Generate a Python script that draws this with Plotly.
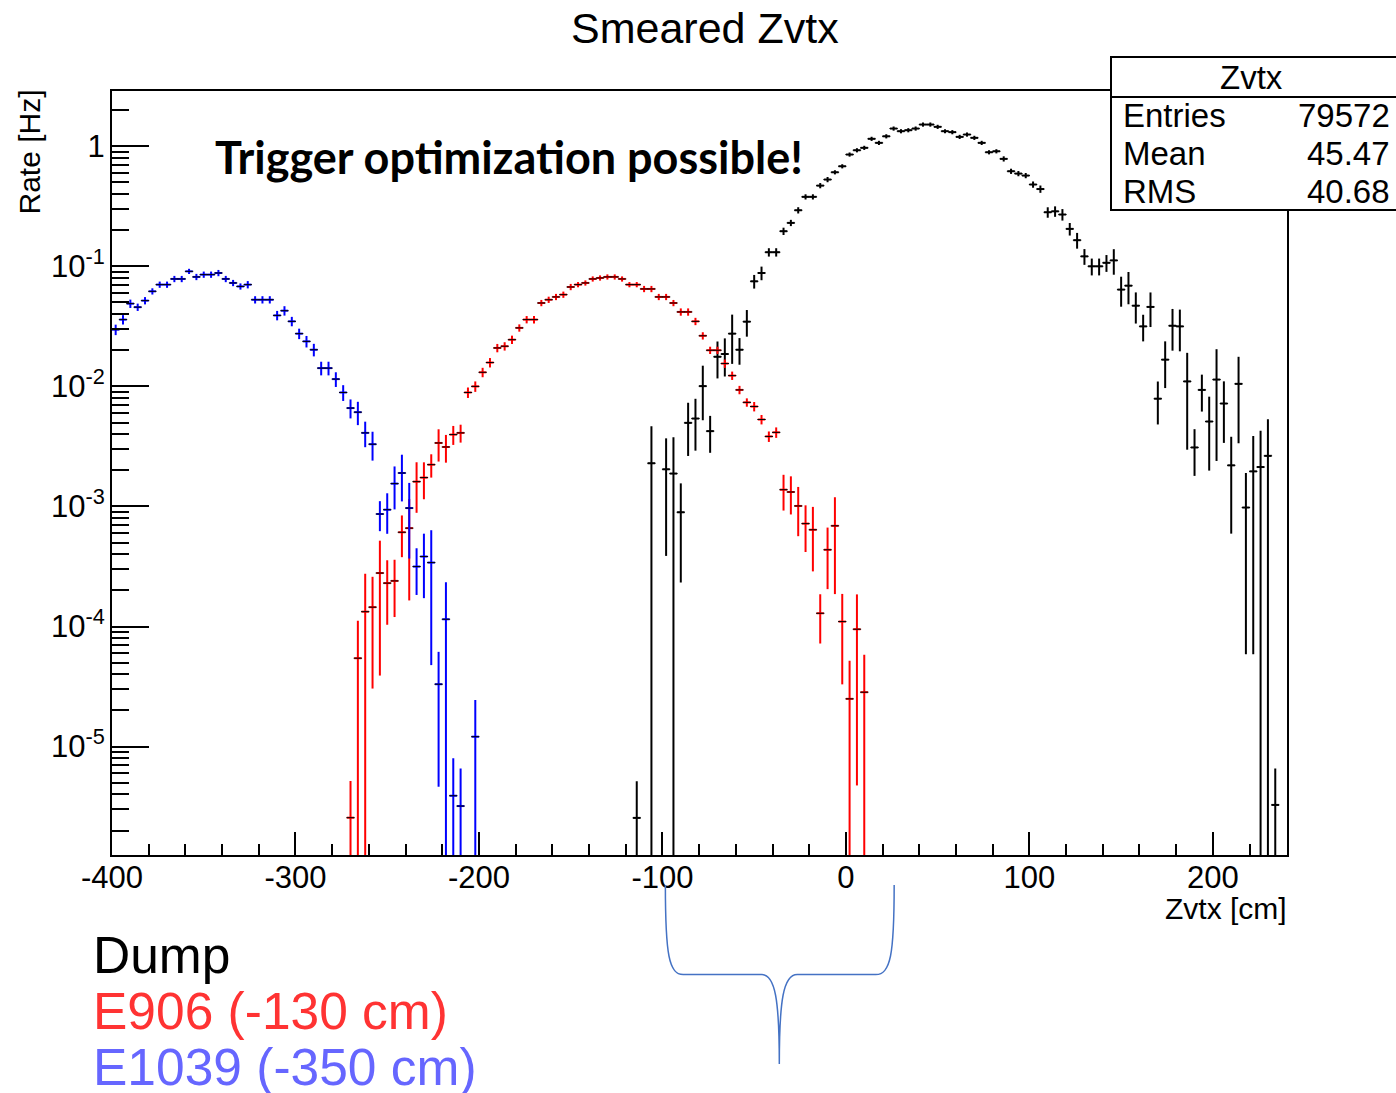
import plotly.graph_objects as go

# ---------------- data: smeared Z-vertex rates, 4 cm bins ----------------
BIN_W = 4.0

# Dump: bin centres start at -114 cm (None = empty bin)
dump_z0 = -114
dump_rate = [
    2.55e-6, None, 2.29e-3, None, 2.04e-3, 1.88e-3, 8.95e-4, 4.97e-3,
    5.4e-3, 0.01005, 4.24e-3, 0.01765, 0.0186, 0.0275, 0.0202, 0.0346,
    0.075, 0.088, 0.131, 0.131, 0.196, 0.23, 0.293, 0.379,
    0.379, 0.47, 0.528, 0.607, 0.681, 0.853, 0.926, 0.97,
    1.153, 1.067, 1.21, 1.404, 1.334, 1.36, 1.404, 1.516,
    1.516, 1.451, 1.334, 1.31, 1.197, 1.252, 1.175, 1.067,
    0.891, 0.908, 0.785, 0.619, 0.592, 0.57, 0.48, 0.44,
    0.282, 0.287, 0.27, 0.205, 0.165, 0.121, 0.1, 0.1,
    0.107, 0.112, 0.064, 0.069, 0.047, 0.0316, 0.0459, 7.9e-3,
    0.0167, 0.032, 0.0316, 0.011, 3.1e-3, 9.35e-3, 5.1e-3, 0.0114,
    7.2e-3, 2.2e-3, 0.0105, 9.8e-4, 1.96e-3, 2.13e-3, 2.64e-3, 3.27e-6,
]
dump_relerr = [
    1.02, 0, 1.03, 0, 0.81, 1.01, 0.74, 0.47,
    0.46, 0.48, 0.34, 0.34, 0.35, 0.44, 0.25, 0.25,
    0.13, 0.13, 0.08, 0.08, 0.07, 0.06, 0.06, 0.05,
    0.05, 0.05, 0.05, 0.04, 0.04, 0.04, 0.04, 0.04,
    0.04, 0.04, 0.04, 0.04, 0.04, 0.04, 0.04, 0.04,
    0.04, 0.04, 0.04, 0.04, 0.04, 0.04, 0.04, 0.04,
    0.04, 0.04, 0.05, 0.05, 0.05, 0.05, 0.06, 0.07,
    0.10, 0.10, 0.11, 0.12, 0.15, 0.15, 0.16, 0.16,
    0.16, 0.24, 0.28, 0.30, 0.29, 0.25, 0.32, 0.39,
    0.42, 0.38, 0.38, 0.73, 0.42, 0.34, 0.61, 0.79,
    0.53, 0.73, 0.68, 0.94, 0.97, 1.01, 1.02, 1.01,
]

# E906 target at -130 cm: bin centres start at -270 cm
e906_z0 = -270
e906_rate = [
    2.56e-6, 5.45e-5, 1.33e-4, 1.45e-4, 2.79e-4, 2.3e-4, 2.4e-4, 6.1e-4,
    6.6e-4, 1.61e-3, 1.74e-3, 2.23e-3, 3.38e-3, 3.13e-3, 3.97e-3, 4.1e-3,
    8.9e-3, 0.0100, 0.0131, 0.0158, 0.0209, 0.0216, 0.0245, 0.0307,
    0.036, 0.036, 0.0495, 0.0527, 0.0556, 0.0581, 0.0673, 0.0704,
    0.0727, 0.0785, 0.0800, 0.0816, 0.0816, 0.0785, 0.0704, 0.0704,
    0.0648, 0.0648, 0.0556, 0.0556, 0.0495, 0.0417, 0.0417, 0.0348,
    0.0264, 0.0200, 0.0200, 0.0155, 0.0123, 0.00935, 0.00736, 0.0068,
    0.0053, 0.00383, 0.00414, 1.38e-3, 1.32e-3, 1.01e-3, 7.2e-4, 6.4e-4,
    1.29e-4, 4.36e-4, 6.9e-4, 1.1e-4, 2.5e-5, 9.5e-5, 2.84e-5,
]
e906_relerr = [
    1.02, 1.05, 1.07, 0.79, 0.86, 0.55, 0.50, 0.38,
    0.75, 0.45, 0.34, 0.22, 0.30, 0.26, 0.18, 0.17,
    0.10, 0.10, 0.09, 0.09, 0.08, 0.08, 0.08, 0.07,
    0.07, 0.07, 0.06, 0.06, 0.06, 0.06, 0.06, 0.05,
    0.05, 0.05, 0.05, 0.05, 0.05, 0.05, 0.05, 0.05,
    0.06, 0.06, 0.06, 0.06, 0.06, 0.07, 0.07, 0.07,
    0.07, 0.07, 0.07, 0.08, 0.08, 0.08, 0.08, 0.09,
    0.09, 0.10, 0.10, 0.33, 0.35, 0.44, 0.42, 0.55,
    0.44, 0.53, 0.73, 0.70, 1.08, 0.95, 1.05,
]

# E1039 target at -350 cm: bin centres start at -398 cm
e1039_z0 = -398
e1039_rate = [
    0.0297, 0.036, 0.0489, 0.0457, 0.0518, 0.0619, 0.0704, 0.0704,
    0.0785, 0.0785, 0.0908, 0.0816, 0.0853, 0.0853, 0.088, 0.0785,
    0.0727, 0.068, 0.0704, 0.0527, 0.0527, 0.0527, 0.039, 0.0427,
    0.0348, 0.0275, 0.0237, 0.0202, 0.0142, 0.0142, 0.0115, 0.0089,
    0.0066, 0.0061, 0.0041, 0.0033, 8.65e-4, 9.4e-4, 1.55e-3, 1.9e-3,
    9.7e-4, 3.16e-4, 3.83e-4, 3.41e-4, 3.31e-5, 1.15e-4, 3.9e-6, 3.2e-6,
    None, 1.21e-5,
]
e1039_relerr = [
    0.10, 0.09, 0.08, 0.07, 0.07, 0.06, 0.06, 0.06,
    0.06, 0.06, 0.05, 0.06, 0.06, 0.06, 0.06, 0.06,
    0.06, 0.06, 0.07, 0.07, 0.07, 0.07, 0.09, 0.09,
    0.09, 0.10, 0.11, 0.12, 0.13, 0.13, 0.14, 0.15,
    0.18, 0.22, 0.24, 0.27, 0.28, 0.37, 0.39, 0.42,
    0.62, 0.42, 0.55, 0.86, 0.86, 1.03, 1.05, 1.05,
    0, 1.02,
]

x_tick_vals = [-400, -300, -200, -100, 0, 100, 200]
y_tick_vals = [1e-5, 1e-4, 1e-3, 1e-2, 1e-1, 1]
y_tick_text = ["10<sup>-5</sup>", "10<sup>-4</sup>", "10<sup>-3</sup>",
               "10<sup>-2</sup>", "10<sup>-1</sup>", "1"]

stats_title = "Zvtx"
stats_labels = ["Entries", "Mean", "RMS"]
stats_values = ["79572", "45.47", "40.68"]

legend_labels = ["Dump", "E906 (-130 cm)", "E1039 (-350 cm)"]
legend_colors = ["#000000", "#ff3333", "#6666ff"]

# ---------------- geometry of the canvas ----------------
W, H = 1396, 1093
ML, MR, MT, MB = 112, 109, 91, 238
X_RANGE = [-400, 240.4]
Y_RANGE = [-5.9025, 0.46]
PW, PH = W - ML - MR, H - MT - MB


def px(xp):
    """pixel column -> paper x"""
    return (xp - ML) / PW


def py(yp):
    """pixel row -> paper y"""
    return (H - MB - yp) / PH


def zx(z):
    """z (cm) -> paper x"""
    return (z - X_RANGE[0]) / (X_RANGE[1] - X_RANGE[0])


assert len(dump_rate) == len(dump_relerr) == 88
assert len(e906_rate) == len(e906_relerr) == 71
assert len(e1039_rate) == len(e1039_relerr) == 50


def hist_trace(z0, rate, relerr, color):
    z = [z0 + BIN_W * i for i in range(len(rate))]
    err = [0 if r is None else r * e for r, e in zip(rate, relerr)]
    return go.Scatter(
        x=z, y=rate, mode="markers",
        marker=dict(symbol="line-ew", size=6, color="black",
                    line=dict(color="black", width=1)),
        error_y=dict(type="data", array=err, visible=True, color=color,
                     thickness=2, width=0),
        error_x=dict(type="constant", value=BIN_W / 2, visible=True,
                     color=color, thickness=2, width=0),
        showlegend=False, hoverinfo="skip",
    )


fig = go.Figure()
fig.add_trace(hist_trace(dump_z0, dump_rate, dump_relerr, "#000000"))
fig.add_trace(hist_trace(e906_z0, e906_rate, e906_relerr, "#ff0000"))
fig.add_trace(hist_trace(e1039_z0, e1039_rate, e1039_relerr, "#0000ff"))

FONT = "Liberation Sans, Arial, Helvetica, sans-serif"

fig.update_layout(
    width=W, height=H,
    margin=dict(l=ML, r=MR, t=MT, b=MB, pad=0),
    paper_bgcolor="white", plot_bgcolor="white",
    font=dict(family=FONT, color="black"),
    showlegend=False,
)

fig.update_xaxes(
    range=X_RANGE, tickmode="array", tickvals=x_tick_vals,
    ticktext=[str(v) for v in x_tick_vals],
    ticks="inside", ticklen=23, tickwidth=2, tickcolor="black",
    minor=dict(tickmode="linear", tick0=-400, dtick=20, ticks="inside",
               ticklen=11, tickwidth=2, tickcolor="black", showgrid=False),
    showline=True, linecolor="black", linewidth=2, mirror=True,
    showgrid=False, zeroline=False, ticklabelstandoff=-6,
    tickfont=dict(size=31, family=FONT, color="black"),
)

fig.update_yaxes(
    type="log", range=Y_RANGE, tickmode="array", tickvals=y_tick_vals,
    ticktext=y_tick_text,
    ticks="inside", ticklen=37, tickwidth=2, tickcolor="black",
    minor=dict(tickmode="linear", dtick="D1", ticks="inside",
               ticklen=17, tickwidth=1.5, tickcolor="black", showgrid=False),
    showline=True, linecolor="black", linewidth=2, mirror=True,
    showgrid=False, zeroline=False, ticklabelstandoff=-1,
    tickfont=dict(size=31, family=FONT, color="black"),
)

shapes = []
# statistics box
bx0, bx1 = px(1111), px(1420)
shapes.append(dict(type="rect", xref="paper", yref="paper",
                   x0=bx0, x1=bx1, y0=py(210), y1=py(57),
                   line=dict(color="black", width=2), fillcolor="white",
                   layer="above"))
shapes.append(dict(type="line", xref="paper", yref="paper",
                   x0=bx0, x1=bx1, y0=py(97), y1=py(97),
                   line=dict(color="black", width=2), layer="above"))

# curly brace under the region of overlap between E906 and Dump
zl, zr, zm = -98.4, 26.3, -36.3
y_top, y_mid, y_tip = py(885), py(974.5), py(1064)
brace = (
    f"M {zx(zl)},{y_top} "
    f"C {zx(zl)},{py(955)} {zx(zl + 2)},{y_mid} {zx(zl + 9.7)},{y_mid} "
    f"L {zx(zm - 9.7)},{y_mid} "
    f"C {zx(zm - 2.2)},{y_mid} {zx(zm)},{py(1000)} {zx(zm)},{y_tip} "
    f"C {zx(zm)},{py(1000)} {zx(zm + 2.2)},{y_mid} {zx(zm + 9.8)},{y_mid} "
    f"L {zx(zr - 10)},{y_mid} "
    f"C {zx(zr - 2)},{y_mid} {zx(zr)},{py(955)} {zx(zr)},{y_top}"
)
shapes.append(dict(type="path", xref="paper", yref="paper", path=brace,
                   line=dict(color="#4472c4", width=1.5), layer="above"))
fig.update_layout(shapes=shapes)

ann = []
# title
ann.append(dict(text="Smeared Zvtx", x=px(704.5), y=py(28), xref="paper",
                yref="paper", xanchor="center", yanchor="middle",
                showarrow=False, font=dict(size=43, family=FONT)))
# axis titles
ann.append(dict(text="Rate [Hz]", x=px(29), y=py(152.5), xref="paper",
                yref="paper", xanchor="center", yanchor="middle",
                textangle=-90, showarrow=False, font=dict(size=30, family=FONT)))
ann.append(dict(text="Zvtx [cm]", x=px(1289), y=py(908), xref="paper",
                yref="paper", xanchor="right", yanchor="middle",
                showarrow=False, font=dict(size=30, family=FONT)))
# statistics box content
ann.append(dict(text=stats_title, x=(bx0 + px(1396)) / 2 - 0.002, y=py(77),
                xref="paper", yref="paper", xanchor="center",
                yanchor="middle", showarrow=False,
                font=dict(size=33, family=FONT)))
for i, (lab, val) in enumerate(zip(stats_labels, stats_values)):
    yrow = py(115.8 + 37.7 * i)
    ann.append(dict(text=lab, x=px(1121), y=yrow, xref="paper",
                    yref="paper", xanchor="left", yanchor="middle",
                    showarrow=False, font=dict(size=33, family=FONT)))
    ann.append(dict(text=val, x=px(1392), y=yrow, xref="paper",
                    yref="paper", xanchor="right", yanchor="middle",
                    showarrow=False, font=dict(size=33, family=FONT)))
# slide call-out
ann.append(dict(text="<b>Trigger optimization possible!</b>", x=px(213),
                y=py(157), xref="paper", yref="paper", xanchor="left",
                yanchor="middle", showarrow=False,
                font=dict(size=45, family="Lato, Open Sans, sans-serif",
                          color="black")))
# colour key
for i, (lab, col) in enumerate(zip(legend_labels, legend_colors)):
    ann.append(dict(text=lab, x=px(91), y=py(955 + 56 * i), xref="paper",
                    yref="paper", xanchor="left", yanchor="middle",
                    showarrow=False,
                    font=dict(size=51.5, family=FONT, color=col)))
fig.update_layout(annotations=ann)

fig.write_html("out.html")
